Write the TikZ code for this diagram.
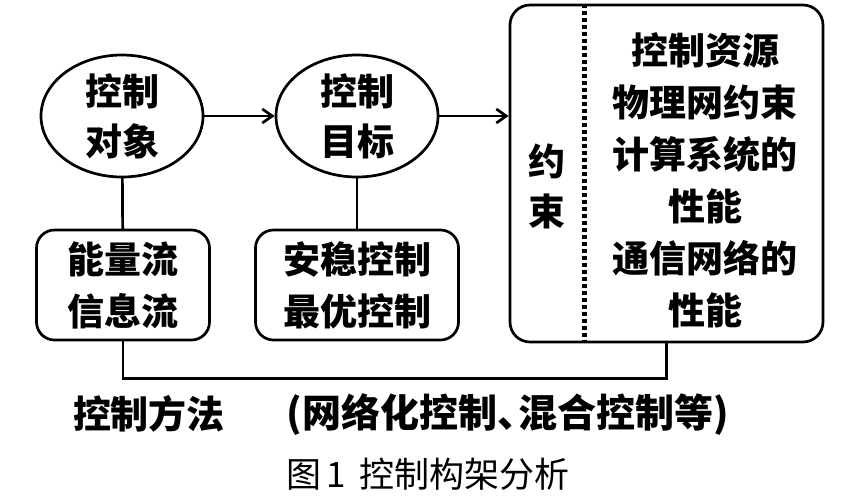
\documentclass[tikz,border=0pt]{standalone}
\usepackage{fontspec}
\usepackage{tikz}
\usetikzlibrary{arrows.meta,positioning,shapes.geometric}
\newfontfamily\cjk{Noto Sans CJK SC}
\tikzset{goalnode/.style={ellipse,draw,minimum width=81pt,minimum height=61pt,inner sep=0pt,align=center,font=\cjk\bfseries\fontsize{18.5}{25}\selectfont},methodbox/.style={rectangle,draw,rounded corners=9pt,minimum height=55pt,inner sep=0pt,align=center,font=\cjk\bfseries\fontsize{18.5}{26}\selectfont},flow/.style={-{Straight Barb[length=5pt,width=7pt]}},every picture/.style={line cap=round}}

\begin{document}
\begin{tikzpicture}[x=0.5pt,y=-0.5pt,line width=1.35pt,txt/.style={align=center,inner sep=0pt,font=\cjk\bfseries\fontsize{18.5}{26}\selectfont}]
\useasboundingbox (0,0) rectangle (853,500);
\node[goalnode] (obj) at (122,116) {控制\\对象};
\node[goalnode] (goal) at (357,116) {控制\\目标};
\node[methodbox,minimum width=86.5pt] (flowbox) at (123,285) {能量流\\信息流};
\node[methodbox,minimum width=101.5pt] (ctrlbox) at (357,285) {安稳控制\\最优控制};
\node[draw,rounded corners=10pt,minimum width=156.5pt,minimum height=168.5pt,inner sep=0pt] (big) at (666.5,173.5) {};
\draw[line width=2.2pt,dash pattern=on 2.2pt off 1.3pt,line cap=butt] ([xshift=38pt]big.north west)--([xshift=38pt]big.south west);
\node[txt,font=\cjk\bfseries\fontsize{18.5}{25}\selectfont] (yue) at (547,186) {约\\束};
\node[txt] (res) at (705,180) {控制资源\\物理网约束\\计算系统的\\性能\\通信网络的\\性能};
\draw[flow] (obj)--(goal);
\draw[flow] (goal.east)--(goal.east -| big.west);
\draw (obj)--(flowbox);
\draw (goal)--(ctrlbox);
\draw (flowbox.south)--++(0,37)-|(big.south);
\node[txt,font=\cjk\bfseries\fontsize{19}{24}\selectfont] (method) at (149,414) {控制方法};
\node[txt,font=\cjk\bfseries\fontsize{19.5}{24}\selectfont] (kinds) at (508,415) {(网络化控制、\hspace{-0.45em}混合控制等)};
\node[txt,font=\cjk\fontsize{17.5}{22}\selectfont] (cap) at (428,474) {图\,1\, 控制构架分析};
\end{tikzpicture}
\end{document}
